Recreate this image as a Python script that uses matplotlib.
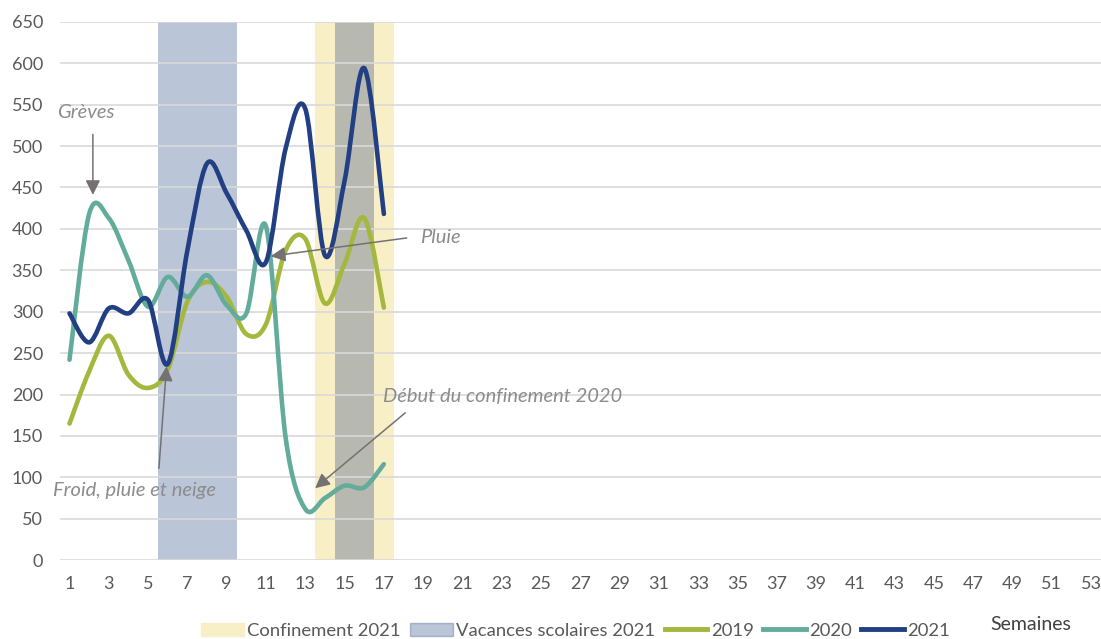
import matplotlib
matplotlib.use("Agg")
import numpy as np
import matplotlib.pyplot as plt
from matplotlib.path import Path
from matplotlib.patches import PathPatch, Patch
from matplotlib.lines import Line2D

plt.rcParams['font.family'] = ['Lato', 'DejaVu Sans']

# --- data (weekly counts) ---
weeks = list(range(1, 18))
v2019 = [165, 228, 271, 224, 208, 230, 312, 336, 318, 273, 285, 374, 388, 310, 358, 413, 305]
v2020 = [242, 418, 413, 362, 306, 342, 318, 344, 308, 298, 403, 148, 62, 75, 90, 88, 116]
v2021 = [298, 263, 304, 298, 314, 237, 374, 479, 443, 398, 360, 497, 545, 368, 458, 594, 418]

conf_weeks = [14, 15, 16, 17]          # Confinement 2021
vac_weeks = [6, 7, 8, 9, 15, 16]        # Vacances scolaires 2021
band_top = 650

x_ticks = list(range(1, 54, 2))
y_ticks = list(range(0, 651, 50))

c2019 = '#A3B83C'
c2020 = '#63AC9C'
c2021 = '#223F84'
c_conf = '#F9EFC7'
c_vac = '#1F3F7F'
grey_txt = '#8C8C8C'
grey_arrow = '#757171'


def smooth_path(xs, ys):
    # Excel-like smoothed line: cubic bezier through each point (catmull-rom tangents)
    pts = np.column_stack([xs, ys]).astype(float)
    n = len(pts)
    verts = [pts[0]]
    codes = [Path.MOVETO]
    for i in range(n - 1):
        p0 = pts[i - 1] if i > 0 else pts[i]
        p1 = pts[i]
        p2 = pts[i + 1]
        p3 = pts[i + 2] if i + 2 < n else pts[i + 1]
        verts += [p1 + (p2 - p0) / 6, p2 - (p3 - p1) / 6, p2]
        codes += [Path.CURVE4] * 3
    return Path(verts, codes)


fig = plt.figure(figsize=(11.01, 6.39), dpi=100)
ax = fig.add_axes([0.0542, 0.1232, 0.9458, 0.8428])

# shaded periods
ax.bar(conf_weeks, [band_top] * len(conf_weeks), width=1.0, color=c_conf, zorder=1)
ax.bar(vac_weeks, [band_top] * len(vac_weeks), width=1.0, color=c_vac, alpha=0.3, zorder=1.1)

for vals, col in [(v2019, c2019), (v2020, c2020), (v2021, c2021)]:
    ax.add_patch(PathPatch(smooth_path(weeks, vals), fill=False, edgecolor=col,
                           lw=3.3, capstyle='round', joinstyle='round', zorder=3))

ax.set_xlim(0.5, 53.5)
ax.set_ylim(0, 650)
ax.set_xticks(x_ticks)
ax.set_yticks(y_ticks)
ax.tick_params(length=0, labelsize=13, labelcolor='#595959')
ax.tick_params(axis='y', pad=12)
ax.tick_params(axis='x', pad=11)
ax.yaxis.grid(True, color='#D9D9D9', lw=1.2)
ax.set_axisbelow('line')
for s in ax.spines.values():
    s.set_visible(False)

# annotations
akw = dict(arrowstyle='-|>', color=grey_arrow, lw=1.1, mutation_scale=22,
           shrinkA=0, shrinkB=0)
fs_note = 14.5
ax.annotate('', xy=(2.19, 441), xytext=(2.19, 514), arrowprops=akw, annotation_clip=False)
ax.text(0.36, 540, 'Grèves', fontsize=fs_note, color=grey_txt, style='italic', va='center', ha='left')

ax.annotate('', xy=(11.24, 367), xytext=(18.16, 389), arrowprops=akw, annotation_clip=False)
ax.text(18.82, 389, 'Pluie', fontsize=fs_note, color=grey_txt, style='italic', va='center', ha='left')

ax.annotate('', xy=(13.5, 87), xytext=(18.09, 178), arrowprops=akw, annotation_clip=False)
ax.text(16.94, 198, 'Début du confinement 2020', fontsize=fs_note, color=grey_txt, style='italic',
        va='center', ha='left')

ax.annotate('', xy=(5.94, 234), xytext=(5.55, 111), arrowprops=akw, annotation_clip=False)
ax.text(0.16, 84, 'Froid, pluie et neige', fontsize=fs_note, color=grey_txt, style='italic',
        va='center', ha='left')

# legend
handles = [Patch(color=c_conf), Patch(color=c_vac, alpha=0.3),
           Line2D([], [], color=c2019, lw=3.5),
           Line2D([], [], color=c2020, lw=3.5),
           Line2D([], [], color=c2021, lw=3.5)]
labels = ['Confinement 2021', 'Vacances scolaires 2021', '2019', '2020', '2021']
leg = fig.legend(handles, labels, loc='center', bbox_to_anchor=(0.523, 0.013), ncol=5,
                 frameon=False, fontsize=13.3, handlelength=2.3, handletextpad=0.2,
                 columnspacing=0.5, labelcolor='#595959')

fig.text(0.936, 0.022, 'Semaines', fontsize=14, color='#404040', ha='center', va='center')

fig.savefig('out.png', dpi=100)
